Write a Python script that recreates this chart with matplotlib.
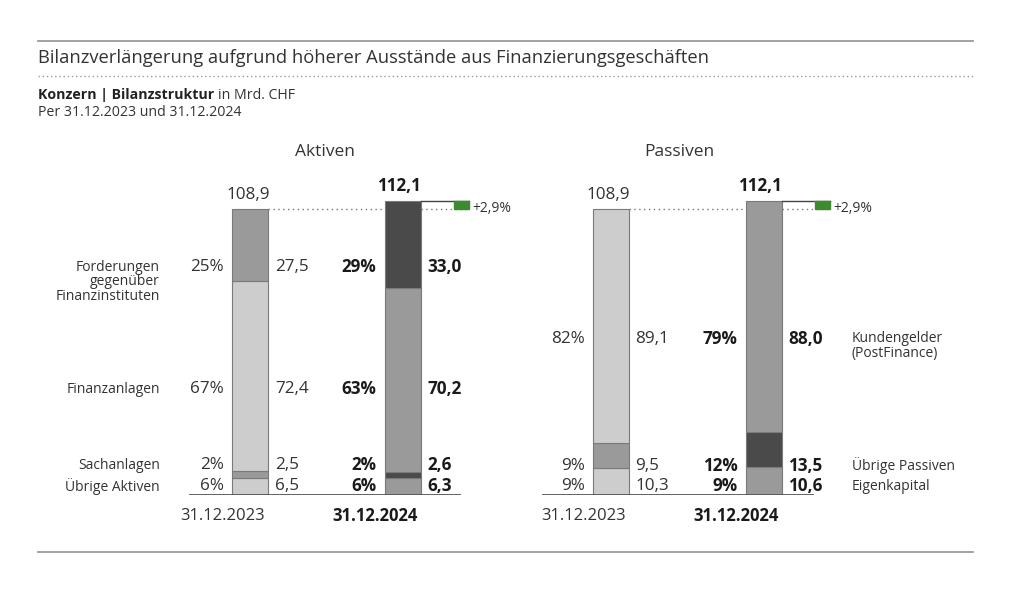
import matplotlib.pyplot as plt
from matplotlib.patches import Rectangle

plt.rcParams['font.family'] = ['Open Sans', 'DejaVu Sans']

# data
years = ['31.12.2023', '31.12.2024']
totals = [108.9, 112.1]
total_labels = ['108,9', '112,1']
growth = '+2,9%'

aktiven_labels = ['Übrige Aktiven', 'Sachanlagen', 'Finanzanlagen',
                  'Forderungen\ngegenüber\nFinanzinstituten']
aktiven_2023 = [6.5, 2.5, 72.4, 27.5]
aktiven_2024 = [6.3, 2.6, 70.2, 33.0]
aktiven_pct_2023 = ['6%', '2%', '67%', '25%']
aktiven_pct_2024 = ['6%', '2%', '63%', '29%']

passiven_labels = ['Eigenkapital', 'Übrige Passiven', 'Kundengelder\n(PostFinance)']
passiven_2023 = [10.3, 9.5, 89.1]
passiven_2024 = [10.6, 13.5, 88.0]
passiven_pct_2023 = ['9%', '9%', '82%']
passiven_pct_2024 = ['9%', '12%', '79%']

LIGHT = '#cdcdcd'
MID = '#9a9a9a'
DARK = '#4a4a4a'
GREEN = '#3d8b2f'
TXT = '#333333'
W, H = 1024, 603
PXU = 2.623  # pixels per Mrd. CHF


def fmt(v):
    return ('%.1f' % v).replace('.', ',')


fig = plt.figure(figsize=(W / 100, H / 100), dpi=100)
fig.patch.set_facecolor('white')


def fy(y):
    return 1 - y / H


# header
fig.add_artist(plt.Line2D([38 / W, 973 / W], [fy(41)] * 2, color='#9a9a9a', lw=1.3))
fig.add_artist(plt.Line2D([38 / W, 973 / W], [fy(76)] * 2, color='#9a9a9a', lw=1, ls=(0, (1, 2))))
fig.add_artist(plt.Line2D([38 / W, 973 / W], [fy(552)] * 2, color='#9a9a9a', lw=1.3))
fig.text(38 / W, fy(58), 'Bilanzverlängerung aufgrund höherer Ausstände aus Finanzierungsgeschäften',
         fontsize=13.2, color=TXT, va='center')
sub = fig.text(38 / W, fy(95), 'Konzern | Bilanzstruktur', fontsize=10.2, fontweight='bold',
               color='#222', va='center')
fig.canvas.draw()
bb = sub.get_window_extent()
fig.text((bb.x1 + 4) / W, fy(95), 'in Mrd. CHF', fontsize=10.2, color=TXT, va='center')
fig.text(38 / W, fy(113), 'Per 31.12.2023 und 31.12.2024', fontsize=10.2, color=TXT, va='center')

ymax = 140
base_px = 495
FS = 12.3


def panel(x0, x1, title, title_x, centers, s23, s24, p23, p24, cats, rows, cols23, cols24,
          cat_x, cat_ha, line_x):
    ax = fig.add_axes([x0 / W, (H - base_px) / H, (x1 - x0) / W, ymax * PXU / H])
    ax.set_xlim(x0, x1)
    ax.set_ylim(0, ymax)
    ax.axis('off')
    bw = 36
    for c, vals, cols in [(centers[0], s23, cols23), (centers[1], s24, cols24)]:
        bottom = 0
        for v, col in zip(vals, cols):
            ax.bar(c, v, bw, bottom=bottom, color=col, edgecolor='#7a7a7a', lw=0.8, zorder=2)
            bottom += v
    ax.plot(line_x, [0, 0], color='#555', lw=1.3, zorder=3)

    # growth marker
    r1 = centers[1] + bw / 2
    ax.plot([centers[0] + bw / 2, centers[1] - bw / 2], [totals[0]] * 2, color='#777', lw=1, ls=(0, (1, 2.5)))
    ax.plot([r1, r1 + 48], [totals[0]] * 2, color='#777', lw=1, ls=(0, (1, 2.5)))
    ax.plot([r1, r1 + 48], [totals[1]] * 2, color='#444', lw=1)
    ax.add_patch(Rectangle((r1 + 33, totals[0]), 15, totals[1] - totals[0], color=GREEN, zorder=3))
    ax.text(r1 + 52, totals[0] + 0.3, growth, fontsize=10, color=TXT, va='center', ha='left')

    # totals
    ax.text(centers[0] - 2, totals[0] + 2.3, total_labels[0], fontsize=FS, color=TXT, ha='center', va='bottom')
    ax.text(centers[1] - 4, totals[1] + 2.3, total_labels[1], fontsize=FS, color='#1a1a1a',
            fontweight='bold', ha='center', va='bottom')
    ax.text(title_x, (base_px - 152) / PXU, title, fontsize=12.5, color=TXT, ha='center', va='center')

    # years
    ax.text(centers[0] - 27, -(516 - base_px) / PXU, years[0], fontsize=12, color=TXT, ha='center', va='center')
    ax.text(centers[1] - 27, -(516 - base_px) / PXU, years[1], fontsize=12, color='#1a1a1a',
            fontweight='bold', ha='center', va='center')

    for i, y in enumerate(rows):
        ax.text(centers[0] - 26, y, p23[i], fontsize=FS, color=TXT, ha='right', va='center')
        ax.text(centers[0] + 25, y, fmt(s23[i]), fontsize=FS, color=TXT, ha='left', va='center')
        ax.text(centers[1] - 26, y, p24[i], fontsize=FS, color='#1a1a1a', fontweight='bold',
                ha='right', va='center')
        ax.text(centers[1] + 25, y, fmt(s24[i]), fontsize=FS, color='#1a1a1a', fontweight='bold',
                ha='left', va='center')
        for k, line in enumerate(cats[i].split('\n')):
            ax.text(cat_x, y - k * 14.5 / PXU, line, fontsize=10, color=TXT, ha=cat_ha, va='center')
    return ax


panel(20, 520, 'Aktiven', 325, [250, 402.5], aktiven_2023, aktiven_2024,
      aktiven_pct_2023, aktiven_pct_2024, aktiven_labels,
      [3.4, 11.4, 40.4, 86.9],
      [LIGHT, MID, LIGHT, MID], [MID, DARK, MID, DARK], 160, 'right', [190, 460])
panel(520, 1004, 'Passiven', 679, [610.5, 763.5], passiven_2023, passiven_2024,
      passiven_pct_2023, passiven_pct_2024, passiven_labels,
      [3.4, 11.1, 59.5],
      [LIGHT, MID, LIGHT], [MID, DARK, MID], 852, 'left', [543, 813])

fig.savefig('out.png', dpi=100)
